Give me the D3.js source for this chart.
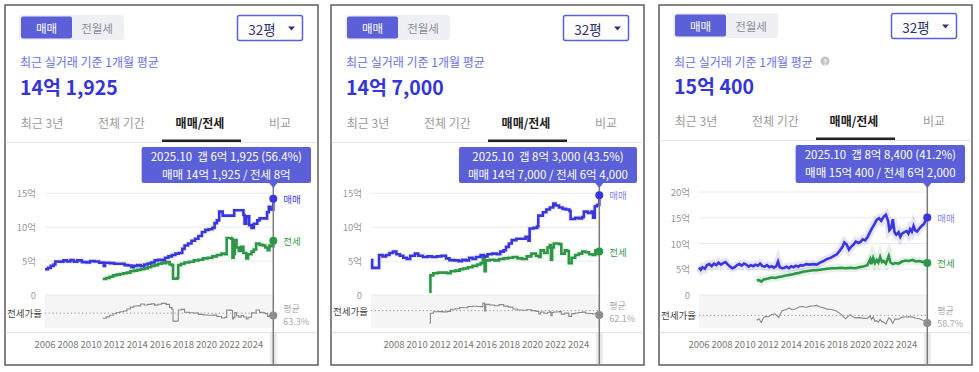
<!DOCTYPE html>
<html>
<head>
<meta charset="utf-8">
<title>매매/전세 시세 비교</title>
<script src="https://cdn.jsdelivr.net/npm/d3@7"></script>
<style>
    body { margin: 0; background: #fff; }
    svg text { font-family: "Noto Sans CJK KR", "Noto Sans", sans-serif; }
</style>
</head>
<body>
<svg id="chart" width="979" height="372"></svg>
<script>
// 단위: 억원, [연도, 값]
var p1Sale = [[2006.0,3.8],[2006.25,4.0],[2006.5,4.3],[2006.75,4.5],[2006.9,4.95],[2007.3,4.9],[2007.6,5.1],[2007.9,4.95],[2008.2,5.15],[2008.5,4.9],[2008.8,5.1],[2009.2,4.85],[2009.6,4.8],[2009.9,5.0],[2010.3,4.95],[2010.7,4.75],[2011.0,4.8],[2011.1,4.3],[2011.2,4.75],[2011.6,4.7],[2012.0,4.6],[2012.5,4.6],[2012.9,4.4],[2013.2,4.35],[2013.5,4.1],[2013.7,4.3],[2014.0,4.4],[2014.3,4.25],[2014.6,4.5],[2014.9,4.65],[2015.2,4.8],[2015.5,5.1],[2015.8,5.2],[2016.1,5.15],[2016.4,5.5],[2016.7,5.7],[2017.0,5.9],[2017.3,6.1],[2017.6,6.2],[2017.9,6.8],[2018.1,7.3],[2018.4,7.6],[2018.7,8.0],[2019.0,8.3],[2019.3,8.7],[2019.6,9.3],[2019.9,9.6],[2020.2,9.7],[2020.5,9.9],[2020.7,10.6],[2020.9,11.0],[2021.1,12.3],[2021.4,11.7],[2022.4,12.5],[2023.2,11.8],[2023.3,10.5],[2023.45,11.6],[2023.7,10.3],[2023.9,9.9],[2024.1,10.5],[2024.4,11.0],[2024.6,11.3],[2025.1,11.3],[2025.25,12.2],[2025.4,13.0],[2025.55,12.6],[2025.79,14.19]];
var p1Jeonse = [[2011.0,2.35],[2011.3,2.5],[2011.6,2.7],[2011.9,2.9],[2012.2,3.0],[2012.5,3.1],[2012.8,3.2],[2013.1,3.3],[2013.4,3.5],[2013.7,3.6],[2014.0,3.7],[2014.3,3.8],[2014.6,3.9],[2014.9,4.1],[2015.2,4.3],[2015.5,4.4],[2015.8,4.6],[2016.1,4.7],[2016.5,4.85],[2016.8,4.5],[2017.0,4.4],[2017.1,2.4],[2017.45,2.5],[2017.55,4.4],[2017.8,4.6],[2018.1,4.8],[2018.5,4.9],[2018.9,5.1],[2019.3,5.2],[2019.7,5.4],[2020.1,5.5],[2020.5,5.7],[2020.9,5.9],[2021.3,6.1],[2021.6,6.0],[2021.75,8.4],[2022.15,8.3],[2022.25,5.5],[2022.35,6.0],[2022.45,8.1],[2022.6,7.0],[2022.8,6.5],[2023.0,7.1],[2023.2,6.2],[2023.45,5.4],[2023.6,6.0],[2023.9,6.4],[2024.1,6.7],[2024.3,7.6],[2024.6,7.4],[2024.9,7.3],[2025.1,7.0],[2025.3,6.6],[2025.45,7.3],[2025.6,7.2],[2025.79,8.0]];

var p2Sale = [[2006.0,5.15],[2006.1,4.0],[2006.6,4.0],[2006.7,5.9],[2007.0,5.7],[2007.3,5.9],[2007.6,6.2],[2007.9,6.4],[2008.2,6.0],[2008.5,5.8],[2008.8,5.5],[2009.1,5.3],[2009.4,5.8],[2009.8,6.1],[2010.1,5.8],[2010.5,5.6],[2010.9,5.7],[2011.3,5.6],[2011.7,5.7],[2012.1,5.8],[2012.5,5.4],[2012.8,5.15],[2013.2,5.1],[2013.6,5.0],[2013.9,5.2],[2014.2,5.1],[2014.5,5.5],[2014.8,5.3],[2015.1,5.6],[2015.5,5.9],[2015.8,5.7],[2016.1,6.0],[2016.5,6.1],[2016.9,6.0],[2017.2,6.4],[2017.5,6.6],[2017.7,7.1],[2017.95,7.6],[2018.2,8.1],[2018.6,8.3],[2019.0,8.3],[2019.4,8.6],[2019.65,8.0],[2019.75,9.8],[2020.1,9.9],[2020.4,10.1],[2020.5,11.7],[2020.9,12.2],[2021.2,12.6],[2021.5,12.9],[2021.8,13.5],[2022.0,13.2],[2022.3,12.9],[2022.6,12.7],[2022.9,12.6],[2023.2,12.4],[2023.3,11.2],[2023.7,11.4],[2024.0,11.3],[2024.3,11.5],[2024.45,12.3],[2024.8,12.1],[2025.1,12.3],[2025.25,11.4],[2025.4,13.1],[2025.6,13.3],[2025.79,14.7]];
var p2Jeonse = [[2011.05,0.5],[2011.15,2.9],[2011.4,3.2],[2011.8,3.3],[2012.2,3.3],[2012.6,3.2],[2012.9,3.5],[2013.3,3.6],[2013.7,3.8],[2014.0,3.9],[2014.4,4.1],[2014.8,4.3],[2015.2,4.5],[2015.5,4.7],[2015.7,5.6],[2015.85,3.5],[2015.95,5.1],[2016.3,5.2],[2016.7,5.1],[2017.1,5.3],[2017.5,5.4],[2017.9,5.5],[2018.3,5.6],[2018.7,5.4],[2019.1,5.3],[2019.5,5.7],[2019.9,6.1],[2020.3,5.8],[2020.55,5.6],[2020.7,6.6],[2021.0,6.2],[2021.3,7.0],[2021.5,7.35],[2021.6,5.2],[2021.7,7.0],[2021.85,7.6],[2022.3,7.5],[2022.5,6.1],[2022.8,6.6],[2023.0,6.5],[2023.15,4.7],[2023.4,5.5],[2023.7,5.9],[2024.0,6.1],[2024.3,6.4],[2024.6,6.3],[2024.9,6.0],[2025.2,5.9],[2025.45,6.6],[2025.79,6.4]];

var p3Sale = [[2006.0,5.3],[2006.15,4.9],[2006.3,5.4],[2006.5,5.1],[2006.7,5.8],[2006.9,6.0],[2007.1,5.6],[2007.3,6.1],[2007.5,5.8],[2007.7,6.3],[2007.9,5.9],[2008.1,6.2],[2008.3,6.4],[2008.5,5.9],[2008.7,5.5],[2008.9,5.2],[2009.1,5.4],[2009.3,5.8],[2009.5,6.0],[2009.7,5.7],[2009.9,6.1],[2010.1,5.9],[2010.3,5.5],[2010.5,5.8],[2010.7,5.6],[2010.9,5.9],[2011.1,5.7],[2011.3,6.1],[2011.5,5.6],[2011.7,5.5],[2011.9,5.8],[2012.1,5.4],[2012.3,5.6],[2012.5,5.3],[2012.7,5.6],[2012.85,6.5],[2013.0,5.4],[2013.2,5.2],[2013.4,5.3],[2013.6,5.5],[2013.8,5.2],[2014.0,5.6],[2014.2,5.4],[2014.4,5.7],[2014.6,5.5],[2014.8,5.8],[2015.0,5.7],[2015.3,6.0],[2015.6,5.9],[2015.9,6.0],[2016.2,5.9],[2016.5,6.3],[2016.8,6.6],[2017.1,7.0],[2017.4,7.2],[2017.7,7.6],[2017.95,7.9],[2018.2,8.6],[2018.45,9.4],[2018.6,10.2],[2018.8,9.8],[2019.0,8.8],[2019.2,9.4],[2019.4,9.8],[2019.6,10.4],[2019.8,10.1],[2020.0,10.3],[2020.2,10.8],[2020.4,10.6],[2020.6,11.2],[2020.8,12.1],[2021.0,13.0],[2021.2,13.7],[2021.4,14.6],[2021.6,14.9],[2021.8,14.4],[2022.0,15.2],[2022.2,15.6],[2022.4,14.3],[2022.5,12.6],[2022.65,13.0],[2022.8,14.7],[2022.95,12.2],[2023.1,11.7],[2023.3,12.2],[2023.45,11.3],[2023.6,11.9],[2023.8,12.2],[2024.0,12.4],[2024.15,11.9],[2024.3,12.8],[2024.45,12.3],[2024.6,13.4],[2024.75,12.5],[2024.9,12.3],[2025.1,12.9],[2025.3,13.4],[2025.5,13.8],[2025.65,14.5],[2025.79,15.04]];
var p3Jeonse = [[2011.0,2.8],[2011.2,2.9],[2011.4,2.6],[2011.6,3.0],[2011.8,3.1],[2012.0,3.2],[2012.3,3.4],[2012.6,3.3],[2012.9,3.5],[2013.2,3.6],[2013.5,3.8],[2013.8,3.9],[2014.1,4.0],[2014.4,4.2],[2014.7,4.3],[2015.0,4.5],[2015.3,4.6],[2015.6,4.7],[2015.9,4.8],[2016.2,4.8],[2016.5,4.9],[2016.8,5.0],[2017.1,5.1],[2017.5,5.2],[2017.9,5.2],[2018.3,5.3],[2018.7,5.2],[2019.1,5.3],[2019.5,5.2],[2019.9,5.4],[2020.3,5.6],[2020.6,5.8],[2020.85,7.0],[2020.95,6.0],[2021.1,7.2],[2021.25,6.2],[2021.4,6.8],[2021.55,6.3],[2021.7,7.4],[2021.85,6.4],[2022.0,6.6],[2022.2,6.1],[2022.45,7.6],[2022.6,6.3],[2022.8,6.0],[2023.0,6.2],[2023.3,6.1],[2023.6,6.5],[2023.9,6.7],[2024.2,6.6],[2024.5,6.8],[2024.8,6.5],[2025.1,6.6],[2025.4,6.4],[2025.6,6.5],[2025.79,6.2]];

var yTicks15 = [0, 5, 10, 15];
var yTicks20 = [0, 5, 10, 15, 20];
var yearTicks = [2006, 2008, 2010, 2012, 2014, 2016, 2018, 2020, 2022, 2024];
var yearTicksNo2006 = [2008, 2010, 2012, 2014, 2016, 2018, 2020, 2022, 2024];
var bigValues = ["14억 1,925", "14억 7,000", "15억 400"];
var tipLine1 = ["2025.10  갭 6억 1,925 (56.4%)", "2025.10  갭 8억 3,000 (43.5%)", "2025.10  갭 8억 8,400 (41.2%)"];
var tipLine2 = ["매매 14억 1,925 / 전세 8억", "매매 14억 7,000 / 전세 6억 4,000", "매매 15억 400 / 전세 6억 2,000"];
var ratioAvg = [63.3, 62.1, 58.7];
var tabs = ["최근 3년", "전체 기간", "매매/전세", "비교"];

var BLUE = "#3a36df", GREEN = "#2e9747", GRAY = "#8a8a8a";

var panels = [
    { x0: 5,   sale: p1Sale, jeonse: p1Jeonse, yMax: 15, yTop: 193.3, yTicks: yTicks15, xTicks: yearTicks,       ratioDomain: [21, 115], curve: d3.curveStepAfter, dy: 0,  help: false, saleLabel: "#4444e0" },
    { x0: 331, sale: p2Sale, jeonse: p2Jeonse, yMax: 15, yTop: 193.3, yTicks: yTicks15, xTicks: yearTicksNo2006, ratioDomain: [-13, 130], curve: d3.curveStepAfter, dy: 0,  help: false, saleLabel: "#8a8ae8" },
    { x0: 659, sale: p3Sale, jeonse: p3Jeonse, yMax: 20, yTop: 192,   yTicks: yTicks20, xTicks: yearTicks,       ratioDomain: [30, 105], curve: d3.curveLinear,    dy: -2, help: true,  saleLabel: "#8a8ae8" }
];

var svg = d3.select("#chart");

// 전세가율 = 전세 / 같은 시점 매매
function ratioSeries(sale, jeonse) {
    var bis = d3.bisector(function (d) { return d[0]; }).right;
    return jeonse.map(function (d) {
        var i = Math.max(0, bis(sale, d[0]) - 1);
        return [d[0], d[1] / sale[i][1] * 100];
    });
}

panels.forEach(function (p, k) {
    var g = svg.append("g").attr("transform", "translate(" + p.x0 + ",0)");
    var dy = p.dy;

    // 패널 테두리
    g.append("rect").attr("x", 0).attr("y", 5).attr("width", 313).attr("height", 360)
        .attr("fill", "#fff").attr("stroke", "#5c5c5c").attr("stroke-width", 1.5);

    // 매매 / 전월세 토글
    g.append("rect").attr("x", 14).attr("y", 15 + dy).attr("width", 105).attr("height", 25).attr("rx", 3).attr("fill", "#eef0f3");
    g.append("rect").attr("x", 16).attr("y", 16.5 + dy).attr("width", 51).attr("height", 22).attr("rx", 2).attr("fill", "#5b60d9");
    g.append("text").attr("x", 41.5).attr("y", 28 + dy).attr("text-anchor", "middle").attr("dominant-baseline", "central")
        .attr("font-size", 11.5).attr("fill", "#fff").text("매매");
    g.append("text").attr("x", 92).attr("y", 28 + dy).attr("text-anchor", "middle").attr("dominant-baseline", "central")
        .attr("font-size", 11.5).attr("fill", "#8b8f99").text("전월세");

    // 평형 선택
    g.append("rect").attr("x", 232.5).attr("y", 15.5 + dy).attr("width", 65).attr("height", 25).attr("rx", 2)
        .attr("fill", "#fff").attr("stroke", "#5a5fe0").attr("stroke-width", 1.5);
    g.append("text").attr("x", 257).attr("y", 28.5 + dy).attr("text-anchor", "middle").attr("dominant-baseline", "central")
        .attr("font-size", 13.5).attr("fill", "#2f3470").text("32평");
    g.append("path").attr("d", "M283," + (26.5 + dy) + "L290," + (26.5 + dy) + "L286.5," + (30.5 + dy) + "Z").attr("fill", "#2f3470");

    // 평균 가격
    g.append("text").attr("x", 15).attr("y", 61).attr("dominant-baseline", "central")
        .attr("font-size", 12).attr("fill", "#6a6ff0").text("최근 실거래 기준 1개월 평균");
    if (p.help) {
        g.append("circle").attr("cx", 166).attr("cy", 61).attr("r", 4.5).attr("fill", "#c4c4c4");
        g.append("text").attr("x", 166).attr("y", 61.5).attr("text-anchor", "middle").attr("dominant-baseline", "central")
            .attr("font-size", 7).attr("font-weight", "bold").attr("fill", "#fff").text("?");
    }
    g.append("text").attr("x", 15).attr("y", 86 + dy / 2).attr("dominant-baseline", "central")
        .attr("font-size", 19.5).attr("font-weight", "bold").attr("fill", "#3535d8").text(bigValues[k]);

    // 탭
    var tabX = [37, 116.5, 195, 275];
    g.selectAll(".tab").data(tabs).enter().append("text")
        .attr("x", function (d, i) { return tabX[i]; })
        .attr("y", 122 + dy)
        .attr("text-anchor", "middle").attr("dominant-baseline", "central")
        .attr("font-size", 12)
        .attr("font-weight", function (d, i) { return i == 2 ? "bold" : "normal"; })
        .attr("fill", function (d, i) { return i == 2 ? "#222" : "#9a9a9a"; })
        .text(function (d) { return d; });
    g.append("rect").attr("x", 157).attr("y", 139.5 + dy).attr("width", 79).attr("height", 2.5).attr("fill", "#222");
    g.append("line").attr("x1", 0.75).attr("x2", 312.25).attr("y1", 142.5 + dy).attr("y2", 142.5 + dy).attr("stroke", "#e6e6e6");

    // 스케일
    var x = d3.scaleLinear().domain([2006, 2025.79]).range([40, 268.3]);
    var y = d3.scaleLinear().domain([0, p.yMax]).range([295, p.yTop]);
    var r = d3.scaleLinear().domain(p.ratioDomain).range([328, 295]);
    var xEnd = x(2025.79);

    // 전세가율 영역
    g.append("rect").attr("x", 40).attr("y", 295).attr("width", xEnd - 40).attr("height", 33).attr("fill", "#f5f5f5");

    // 격자 / y축 라벨
    g.selectAll(".grid").data(p.yTicks).enter().append("line")
        .attr("x1", 40).attr("x2", xEnd)
        .attr("y1", function (d) { return y(d); }).attr("y2", function (d) { return y(d); })
        .attr("stroke", "#ececec");
    g.selectAll(".ylab").data(p.yTicks).enter().append("text")
        .attr("x", 31).attr("y", function (d) { return y(d); })
        .attr("text-anchor", "end").attr("dominant-baseline", "central")
        .attr("font-size", 9.5).attr("fill", "#9a9a9a")
        .text(function (d) { return d == 0 ? "0" : d + "억"; });

    // 전세가율
    var ratio = ratioSeries(p.sale, p.jeonse);
    var avgY = r(ratioAvg[k]);
    g.append("line").attr("x1", 40).attr("x2", xEnd).attr("y1", avgY).attr("y2", avgY)
        .attr("stroke", "#999").attr("stroke-dasharray", "1.2,2.5");
    g.append("text").attr("x", 37).attr("y", avgY).attr("text-anchor", "end").attr("dominant-baseline", "central")
        .attr("font-size", 9.5).attr("fill", "#444").text("전세가율");
    g.append("path").datum(ratio)
        .attr("d", d3.line().x(function (d) { return x(d[0]); }).y(function (d) { return r(d[1]); }).curve(p.curve))
        .attr("fill", "none").attr("stroke", GRAY).attr("stroke-width", 1.1);

    // 매매 / 전세 선
    var line = d3.line().x(function (d) { return x(d[0]); }).y(function (d) { return y(d[1]); }).curve(p.curve);
    [[p.sale, BLUE], [p.jeonse, GREEN]].forEach(function (s) {
        g.append("path").datum(s[0]).attr("d", line).attr("fill", "none")
            .attr("stroke", s[1]).attr("stroke-opacity", k == 2 ? 0.13 : 0.07).attr("stroke-width", k == 2 ? 8 : 5);
    });
    g.append("path").datum(p.jeonse).attr("d", line).attr("fill", "none").attr("stroke", GREEN).attr("stroke-width", 2.6);
    g.append("path").datum(p.sale).attr("d", line).attr("fill", "none").attr("stroke", BLUE).attr("stroke-width", 2.6);

    // 하단 x축
    g.append("line").attr("x1", 0.75).attr("x2", 312.25).attr("y1", 332.5).attr("y2", 332.5).attr("stroke", "#e3e3e3");
    g.selectAll(".xlab").data(p.xTicks).enter().append("text")
        .attr("x", function (d) { return x(d); }).attr("y", 344)
        .attr("text-anchor", "middle").attr("dominant-baseline", "central")
        .attr("font-size", 9.5).attr("fill", "#777")
        .text(function (d) { return d; });

    // 선택 시점 표시선
    g.append("rect").attr("x", xEnd - 3.5).attr("y", 333).attr("width", 7).attr("height", 31).attr("fill", "#ebebeb");
    g.append("line").attr("x1", xEnd).attr("x2", xEnd).attr("y1", 183).attr("y2", 364)
        .attr("stroke", "#7a7a7a").attr("stroke-width", 1.5);

    var lastSale = p.sale[p.sale.length - 1], lastJeonse = p.jeonse[p.jeonse.length - 1], lastRatio = ratio[ratio.length - 1];
    g.append("circle").attr("cx", xEnd).attr("cy", y(lastSale[1])).attr("r", 4).attr("fill", BLUE);
    g.append("circle").attr("cx", xEnd).attr("cy", y(lastJeonse[1])).attr("r", 4).attr("fill", GREEN);
    g.append("circle").attr("cx", xEnd).attr("cy", r(lastRatio[1])).attr("r", 4).attr("fill", "#8d8d8d");
    g.append("text").attr("x", xEnd + 10).attr("y", y(lastSale[1])).attr("dominant-baseline", "central")
        .attr("font-size", 9.5).attr("fill", p.saleLabel).text("매매");
    g.append("text").attr("x", xEnd + 10).attr("y", y(lastJeonse[1])).attr("dominant-baseline", "central")
        .attr("font-size", 9.5).attr("fill", "#3a9a50").text("전세");
    g.append("text").attr("x", xEnd + 10).attr("y", avgY - 5).attr("dominant-baseline", "central")
        .attr("font-size", 9).attr("fill", "#aaa").text("평균");
    g.append("text").attr("x", xEnd + 10).attr("y", avgY + 8).attr("dominant-baseline", "central")
        .attr("font-size", 9).attr("fill", "#aaa").text(ratioAvg[k] + "%");

    // 툴팁
    var tip = g.append("g");
    var box = tip.append("rect").attr("fill", "#5b5fd8").attr("rx", 2);
    var t1 = tip.append("text").attr("y", 156 + dy).attr("text-anchor", "middle").attr("dominant-baseline", "central")
        .attr("font-size", 11.5).attr("fill", "#fff").attr("xml:space", "preserve").text(tipLine1[k]);
    var t2 = tip.append("text").attr("y", 173.5 + dy).attr("text-anchor", "middle").attr("dominant-baseline", "central")
        .attr("font-size", 11.5).attr("fill", "#fff").text(tipLine2[k]);
    var tw = Math.max(t1.node().getComputedTextLength(), t2.node().getComputedTextLength()) + 18;
    var right = 306;
    box.attr("x", right - tw).attr("y", 147 + dy).attr("width", tw).attr("height", 36 - dy);
    t1.attr("x", right - tw / 2);
    t2.attr("x", right - tw / 2);
    tip.append("path").attr("d", "M" + (xEnd - 4.5) + ",182.5L" + (xEnd + 4.5) + ",182.5L" + xEnd + ",188Z").attr("fill", "#5b5fd8");
});
</script>
</body>
</html>
